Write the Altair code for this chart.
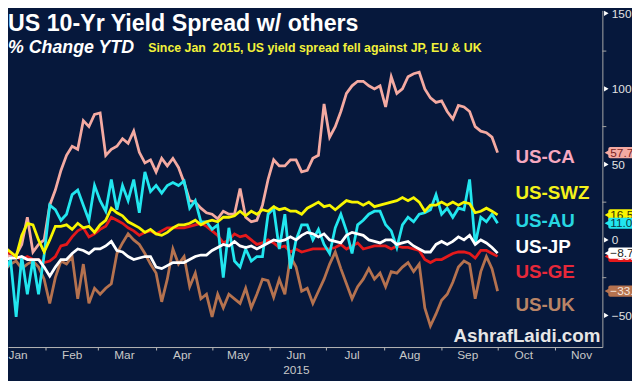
import altair as alt
import pandas as pd

# ---------------- data ----------------
dates = pd.date_range("2015-01-07", periods=90, freq="3D")

us_ca = [-7.5, -9.5, -11, -10, -3, 15, -8, -3, 0, 23,
         33, 46, 56, 62, 60, 79, 75, 83, 84, 56,
         60, 62, 67, 64, 72, 58, 51, 53, 45, 54,
         49, 54, 48, 38, 26, 25, 21, 18, 17, 14,
         19, 17, 17, 34, 15, 12, 13, 23, 40, 53,
         49, 49, 53, 53, 45, 46, 54, 56, 90, 68,
         75, 85, 97, 102, 105, 105, 102, 100, 102, 88,
         108, 97, 100, 108, 110, 111, 100, 94, 91, 92,
         85, 80, 89, 88, 85, 75, 72, 71, 68, 57.77]

us_swz = [-3, -5, -8, -11, 3, 11, 10, 0, -8, 0,
          9, 9, 10, 7, 11, 8, 9, 5, 10, 13,
          21, 18, 16, 12, 10, 8, 5, 7, 4, 3,
          5, 8, 10, 10, 11, 13, 10, 12, 13, 12,
          15, 15, 16, 19, 16, 19, 17, 20, 19, 22,
          20, 21, 19, 19, 17, 21, 23, 25, 22, 23,
          20, 23, 26, 25, 25, 23, 25, 22, 23, 24,
          25, 26, 28, 26, 28, 25, 19, 23, 23, 25,
          23, 25, 23, 25, 24, 18, 19, 21, 19, 16.55]

us_au = [-11, -21, -13, -51, -11, -36, -13, -36, -10, 23,
         20, 13, 17, 30, 33, 23, 13, 36, 26, 19,
         40, 20, 36, 26, 40, 18, 45, 32, 36, 31,
         36, 38, 36, 39, 21, 26, 12, 12, 7, 10,
         -25, 8, -14, -18, -6, -14, -11, -11, 17, 21,
         -6, 17, -19, 0, 10, 10, 0, 7, -3, -9,
         8, 17, 6, -9, 10, 13, 17, 19, 19, 10,
         6, -5, 10, 15, 12, 17, 18, 20, 30, 17,
         21, 15, 21, 20, 40, -3, 15, 12, 17, 11.04]

us_jp = [-13, -13, -12, -12, -11, -13, -13, -13, -18, -24,
         -18, -13, -13, -9, -6, -7, -9, -6, -6, -4,
         -1, -7, -8, -11, -13, -12, -11, -11, -18, -19,
         -17, -15, -15, -15, -13, -11, -10, -10, -7, -5,
         -3, -4, -1, -4, -5, -4, -6, -4, -2, 0,
         -1, 0, 2, 0, 3, 5, 4, 2, 4, 0,
         -1, -2, 3, 5, 4, 3, 0, -1, -2, 0,
         0, -3, -2, -1, -4, -6, -8, -8, -3, -1,
         -3, -1, 2, 0, 3, -3, 0, -2, -5, -8.76]

us_ge = [-7, -8, -9, -11, -13, -11, -13, -13, -15, -14,
         -11, -4, -3, 2, 6, 8, 2, 4, 7, 9,
         15, 13, 11, 8, 6, 3, 5, 6, 4, 6,
         8, 8, 8, 8, 9, 10, 11, 9, 6, 3,
         -2, 0, 4, 2, 3, 0, -3, -2, 0, -2,
         -5, -4, -8, -6, -8, -7, -6, -6, -6, -6,
         -5, -3, -6, -4, -2, -6, -5, -4, -4, -4,
         -6, -4, -5, -5, -6, -7, -13, -15, -13, -13,
         -11, -9, -8, -8, -9, -12, -7, -7, -9, -10.9]

us_uk = [-18, -20, -16, -14, -19, -16, -14, -18, -26, -42,
         -25, -14, -16, -11, -39, -16, -42, -32, -36, -32,
         -29, -9, -2, 4, 0, -3, -9, -16, -22, -41,
         -26, -6, -16, -11, -31, -22, -39, -36, -51, -36,
         -45, -36, -39, -42, -32, -45, -36, -26, -27, -38,
         -26, -36, -11, -18, -34, -32, -42, -34, -26, -16,
         -8, -19, -29, -39, -31, -26, -19, -26, -22, -31,
         -21, -22, -18, -15, -21, -16, -45, -57, -49, -40,
         -36, -28, -18, -14, -16, -39, -21, -11, -19, -33.85]

series_names = ["US-CA", "US-SWZ", "US-AU", "US-JP", "US-GE", "US-UK"]
series_values = [us_ca, us_swz, us_au, us_jp, us_ge, us_uk]

month_names = ["Jan", "Feb", "Mar", "Apr", "May", "Jun",
               "Jul", "Aug", "Sep", "Oct", "Nov"]
month_label_days = [17, 15, 15, 15, 15, 15, 15, 15, 15, 15, 15]
major_ticks = [-50, 0, 50, 100, 150]
minor_ticks = [-25, 25, 75, 125]

title_text = "US 10-Yr Yield Spread w/ others"
subtitle_text = "% Change YTD"
note_text = "Since Jan\u00a0 2015, US yield spread fell against JP, EU & UK"
year_text = "2015"
watermark = "AshrafLaidi.com"

# ---------------- styles ----------------
BG = "#06183c"
NARROW = "Liberation Sans Narrow, Liberation Sans, Arial, sans-serif"
SANS = "Liberation Sans, Arial, sans-serif"
line_color = {"US-CA": "#f4aaa2", "US-SWZ": "#f8f500", "US-AU": "#22e6ef",
              "US-JP": "#ffffff", "US-GE": "#e4191b", "US-UK": "#b5724f"}
label_color = {"US-CA": "#f6a8c0", "US-SWZ": "#f4f21a", "US-AU": "#27d6e2",
               "US-JP": "#ffffff", "US-GE": "#e8283a", "US-UK": "#b98466"}
tag_text_color = {"US-CA": "#7a2424", "US-SWZ": "#333300", "US-AU": "#0b3b45",
                  "US-JP": "#222222", "US-GE": "#ffffff", "US-UK": "#f5e6dc"}
label_y = {"US-CA": 149, "US-SWZ": 185, "US-AU": 213, "US-JP": 240,
           "US-GE": 265, "US-UK": 298}

W, H = 602, 341

rows = []
for name, vals in zip(series_names, series_values):
    for d, v in zip(dates, vals):
        rows.append({"date": d, "series": name, "value": v})
df = pd.DataFrame(rows)

x_scale = alt.Scale(domain=[alt.DateTime(year=2015, month=1, date=11, hours=15, minutes=10),
                            alt.DateTime(year=2015, month=11, date=26, hours=3, minutes=40)],
                    nice=False)
y_scale = alt.Scale(domain=[-70.92, 151.96], nice=False, zero=False)

x_axis = alt.Axis(values=[alt.DateTime(year=2015, month=m, date=1) for m in range(2, 13)],
                  labels=False, ticks=True, tickSize=3, tickColor="#b8b8b8",
                  domainColor="#b8b8b8", domainWidth=1, grid=False, title=None)
y_axis = alt.Axis(orient="right", values=major_ticks, ticks=False, labelPadding=9,
                  labelColor="#e2e2e2", labelFont=NARROW, labelFontSize=12,
                  domainColor="#a8a8a8", domainWidth=1, grid=False, title=None,
                  labelOverlap=False, zindex=1)

layers = []
draw_order = ["US-UK", "US-CA", "US-GE", "US-AU", "US-JP", "US-SWZ"]
for i, name in enumerate(draw_order):
    layers.append(
        alt.Chart(df).transform_filter(alt.datum.series == name)
        .mark_line(clip=True, strokeWidth=2.8, color=line_color[name])
        .encode(x=alt.X("date:T", scale=x_scale, axis=x_axis if i == 0 else None),
                y=alt.Y("value:Q", scale=y_scale, axis=y_axis if i == 0 else None))
    )

# y-axis minor ticks and triangle markers
layers.append(alt.Chart(pd.DataFrame({"v": minor_ticks})).mark_rule(color="#a8a8a8")
              .encode(x=alt.value(W), x2=alt.value(W + 4), y=alt.Y("v:Q", scale=y_scale, axis=None)))
layers.append(alt.Chart(pd.DataFrame({"v": major_ticks})).mark_point(
    shape="triangle-right", filled=True, size=28, color="#ffffff", opacity=1)
    .encode(x=alt.value(W + 4), y=alt.Y("v:Q", scale=y_scale, axis=None)))

# month labels
mdf = pd.DataFrame({"m": month_names,
                    "d": [pd.Timestamp(2015, k + 1, month_label_days[k])
                          for k in range(len(month_names))]})
layers.append(alt.Chart(mdf).mark_text(font=NARROW, fontSize=12, color="#c8c8c8",
                                       baseline="middle", align="center")
              .encode(x=alt.X("d:T", scale=x_scale, axis=None), y=alt.value(H + 8), text="m:N"))

def text_layer(txt, x, y, **kw):
    return alt.Chart(pd.DataFrame({"t": [txt]})).mark_text(**kw).encode(
        x=alt.value(x), y=alt.value(y), text="t:N")

layers.append(text_layer(year_text, 292, H + 23, font=NARROW, fontSize=12,
                         color="#c8c8c8", align="center", baseline="middle"))

# value tags at the right
tag_order = ["US-GE", "US-JP", "US-SWZ", "US-AU", "US-CA", "US-UK"]
for name in tag_order:
    v = series_values[series_names.index(name)][-1]
    tdf = pd.DataFrame({"v": [v]})
    base = alt.Chart(tdf).transform_calculate(top="datum.v + 3.7", bot="datum.v - 3.7")
    layers.append(base.mark_rect(cornerRadius=2, color=line_color[name])
                  .encode(x=alt.value(W + 6), x2=alt.value(W + 60),
                          y=alt.Y("top:Q", scale=y_scale, axis=None), y2="bot:Q"))
    layers.append(alt.Chart(tdf).mark_point(shape="triangle-left", filled=True, size=40,
                                            color=line_color[name], opacity=1)
                  .encode(x=alt.value(W + 5), y=alt.Y("v:Q", scale=y_scale, axis=None)))
    layers.append(alt.Chart(tdf).mark_text(font=NARROW, fontSize=12, align="left",
                                           baseline="middle", color=tag_text_color[name])
                  .encode(x=alt.value(W + 8), y=alt.Y("v:Q", scale=y_scale, axis=None),
                          text=alt.Text("v:Q", format=".2f")))

# series labels
for name in series_names:
    layers.append(text_layer(name, 514, label_y[name], font=SANS, fontSize=19,
                             fontWeight="bold", color=label_color[name],
                             align="left", baseline="middle"))

# titles
layers.append(text_layer(title_text, 0, 21, font=SANS, fontSize=23.5, fontWeight="bold",
                         color="#ffffff", align="left", baseline="alphabetic"))
layers.append(text_layer(subtitle_text, 0, 43, font=SANS, fontSize=18, fontWeight="bold",
                         fontStyle="italic", color="#ffffff", align="left",
                         baseline="alphabetic"))
layers.append(text_layer(note_text, 142, 42, font=SANS, fontSize=12.5, fontWeight="bold",
                         color="#f2f23a", align="left", baseline="alphabetic"))
layers.append(text_layer(watermark, 600, 336, font=SANS, fontSize=19, fontWeight="bold",
                         color="#e6e6e6", align="right", baseline="alphabetic"))

chart = alt.layer(*layers).resolve_axis(x="independent", y="independent").properties(
    width=W, height=H,
    autosize=alt.AutoSizeParams(type="none"),
    padding={"left": 0, "top": 0, "right": 30, "bottom": 32},
    background=BG,
).configure_view(stroke=None)

chart.save("out.html", embed_options={"renderer": "svg", "actions": False})
